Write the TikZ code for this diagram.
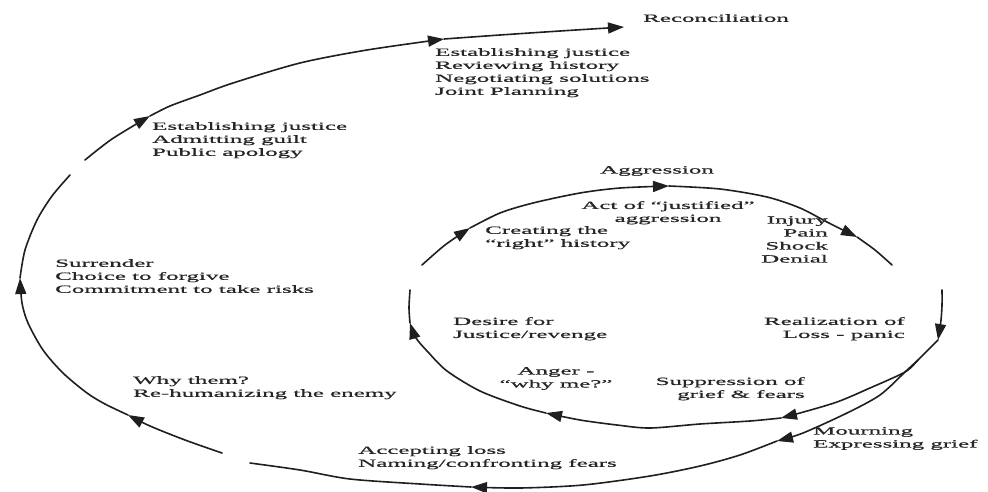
\documentclass[tikz,border=0pt]{standalone}
\usepackage{fontspec}
\setmainfont[FakeStretch=2.27,FakeBold=0.8]{Liberation Serif}
\usetikzlibrary{arrows.meta}
\tikzset{
  stroke/.style={line width=1.6pt, line cap=round, black!88},
  arr/.style={stroke, -{Triangle[length=16pt,width=11pt]}},
  lbl/.style={inner sep=0pt, font=\fontsize{11}{13}\selectfont, text=black!85},
}
\begin{document}
\begin{tikzpicture}[x=1pt,y=-1pt]
\useasboundingbox (0,0) rectangle (988,491);
% ---------- inner cycle ----------
\draw[arr] plot[smooth] coordinates {(422,265) (445,245) (470,228)};
\draw[arr] plot[smooth] coordinates {(470,228) (500,213) (533,203) (580,193) (620,188) (669,186)};
\draw[arr] plot[smooth] coordinates {(669,186) (720,189) (767,197) (800,208) (827,222) (857,237)};
\draw[stroke] plot[smooth] coordinates {(857,237) (875,250) (892,265)};
\draw[arr] plot[smooth] coordinates {(942,290) (942,305) (941,320) (938,340)};
\draw[arr] plot[smooth] coordinates {(938,340) (930,348) (918,360) (905,372) (870,388) (837,402) (800,413) (781,418)};
\draw[arr] plot[smooth] coordinates {(781,418) (750,421) (700,424) (650,428) (617,425) (580,420) (546,413)};
\draw[arr] plot[smooth] coordinates {(546,413) (520,406) (480,391) (447,371) (428,352) (416,338) (410,323)};
\draw[stroke] plot[smooth] coordinates {(410,323) (409,308) (410,290)};
% ---------- outer spiral ----------
\draw[arr] plot[smooth] coordinates {(918,360) (905,372) (880,395) (847,413) (803,433) (777,441)};
\draw[arr] plot[smooth] coordinates {(777,441) (740,455) (700,466) (650,476) (583,485) (520,488) (471,487)};
\draw[stroke] plot[smooth] coordinates {(471,487) (420,484) (350,479) (300,470) (250,463)};
\draw[arr] plot[smooth] coordinates {(222,453) (185,440) (150,426) (128,415)};
\draw[arr] plot[smooth] coordinates {(128,415) (105,404) (87,393) (63,373) (43,350) (28,323) (22,303) (20,278)};
\draw[stroke] plot[smooth] coordinates {(20,278) (25,250) (37,220) (52,196) (70,175)};
\draw[arr] plot[smooth] coordinates {(85,160) (112,139) (150,116)};
\draw[arr] plot[smooth] coordinates {(150,116) (170,106) (200,95) (233,83) (300,63) (367,50) (444,39)};
\draw[arr] plot[smooth] coordinates {(444,39) (500,35) (560,31) (624,27)};
% ---------- labels ----------
\node[lbl, anchor=north west] (reconc) at (643,14) {Reconciliation};
\node[lbl, anchor=north west, align=left] (estabA) at (435,48) {Establishing justice\\Reviewing history\\Negotiating solutions\\Joint Planning};
\node[lbl, anchor=north west, align=left] (estabB) at (152,122) {Establishing justice\\Admitting guilt\\Public apology};
\node[lbl, anchor=north west, align=left] (surr) at (55,259) {Surrender\\Choice to forgive\\Commitment to take risks};
\node[lbl, anchor=north west, align=left] (why) at (133,376) {Why them?\\Re-humanizing the enemy};
\node[lbl, anchor=north west, align=left] (accept) at (358,446) {Accepting loss\\Naming/confronting fears};
\node[lbl, anchor=north west, align=left] (mourn) at (813,427) {Mourning\\Expressing grief};
\node[lbl, anchor=north] (aggr) at (657,166) {Aggression};
\node[lbl, anchor=north, align=center] (act) at (668,201) {Act of “justified”\\aggression};
\node[lbl, anchor=north west, align=left] (creat) at (485,226) {Creating the\\“right” history};
\node[lbl, anchor=north east, align=right] (inj) at (828,216) {Injury\\Pain\\Shock\\Denial};
\node[lbl, anchor=north west, align=left] (desire) at (453,317) {Desire for\\Justice/revenge};
\node[lbl, anchor=north east, align=right] (real) at (905,317) {Realization of\\Loss - panic};
\node[lbl, anchor=north, align=center] (anger) at (556,367) {Anger -\\“why me?”};
\node[lbl, anchor=north east, align=right] (supp) at (805,377) {Suppression of\\grief \& fears};
\end{tikzpicture}
\end{document}
